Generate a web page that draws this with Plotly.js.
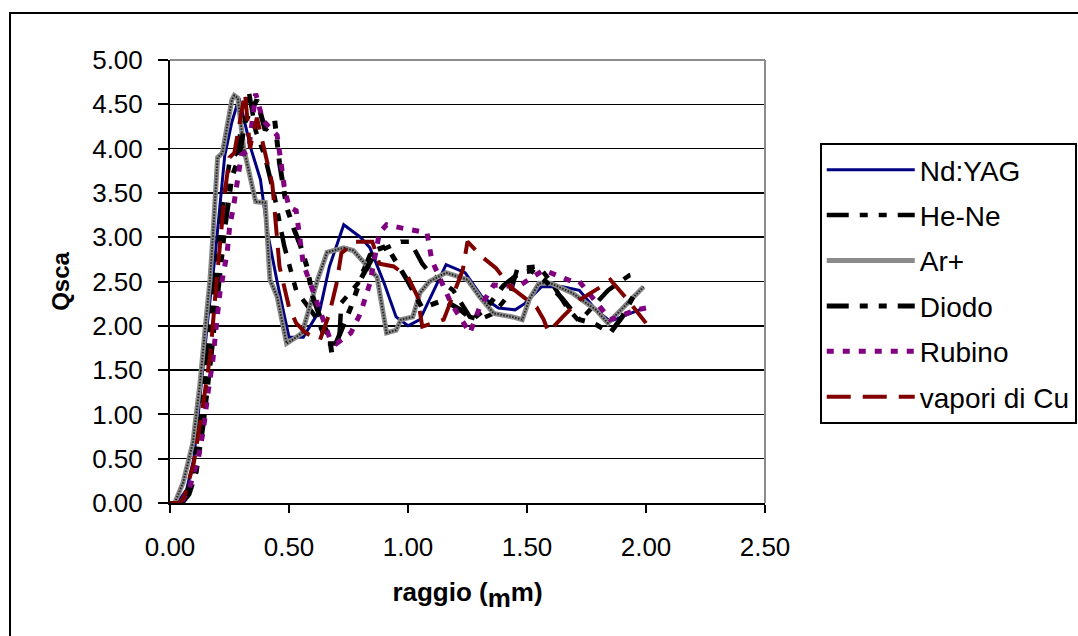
<!DOCTYPE html>
<html>
<head>
<meta charset="utf-8">
<script src="https://cdn.plot.ly/plotly-3.0.1.min.js"></script>
<style>html,body{margin:0;padding:0;background:#fff;}#chart{width:1078px;height:636px;}</style>
</head>
<body>
<div id="chart"></div>
<script>
// Raggio (x) and Qsca (y) for each laser
const ndyagX = [0.03,0.07,0.10,0.13,0.16,0.19,0.21,0.23,0.26,0.29,0.34,0.38,0.41,0.45,0.50,0.56,0.63,0.67,0.73,0.80,0.84,0.90,0.95,1.00,1.05,1.16,1.24,1.31,1.38,1.45,1.49,1.56,1.65,1.72,1.79,1.85,1.99];
const ndyagY = [0.00,0.15,0.50,1.30,2.10,2.80,3.40,3.92,4.30,4.57,4.00,3.65,3.05,2.50,1.87,1.87,2.18,2.67,3.14,3.00,2.88,2.48,2.10,2.00,2.07,2.69,2.60,2.33,2.20,2.18,2.25,2.44,2.44,2.40,2.18,2.05,2.20];

const heneX = [0.04,0.07,0.10,0.13,0.16,0.19,0.22,0.25,0.28,0.33,0.36,0.40,0.44,0.48,0.53,0.59,0.62,0.66,0.71,0.72,0.79,0.84,0.92,0.97,1.01,1.06,1.09,1.19,1.26,1.30,1.36,1.43,1.46,1.55,1.60,1.67,1.72,1.80,1.84,1.93,1.97];
const heneY = [0.00,0.10,0.40,1.00,1.80,2.60,3.30,3.85,3.95,4.66,4.20,3.90,3.45,2.90,2.40,2.18,2.07,1.80,1.80,2.26,2.48,2.80,2.89,2.95,2.95,2.70,2.60,2.40,2.10,2.07,2.14,2.37,2.65,2.67,2.50,2.20,2.05,2.29,2.40,2.57,2.60];

const arX = [0.02,0.055,0.096,0.126,0.147,0.168,0.18,0.20,0.22,0.26,0.27,0.285,0.31,0.36,0.40,0.42,0.45,0.49,0.53,0.555,0.62,0.66,0.73,0.77,0.83,0.87,0.91,0.95,0.97,1.02,1.05,1.09,1.16,1.25,1.30,1.36,1.44,1.48,1.51,1.55,1.60,1.69,1.79,1.84,1.99];
const arY = [0.00,0.23,0.68,1.35,1.95,2.52,3.00,3.90,3.95,4.55,4.60,4.57,4.00,3.40,3.39,2.52,2.33,1.80,1.87,1.92,2.52,2.83,2.88,2.85,2.67,2.55,1.92,1.95,2.07,2.10,2.37,2.50,2.60,2.52,2.33,2.14,2.10,2.07,2.30,2.48,2.48,2.37,2.18,2.03,2.44];

const diodoX = [0.05,0.08,0.11,0.14,0.17,0.20,0.23,0.26,0.29,0.315,0.365,0.40,0.44,0.46,0.49,0.52,0.55,0.575,0.60,0.63,0.67,0.68,0.76,0.80,0.83,0.87,0.91,1.00,1.06,1.15,1.22,1.27,1.33,1.40,1.47,1.52,1.58,1.65,1.72,1.78,1.85,1.90,1.95];
const diodoY = [0.00,0.10,0.35,0.90,1.60,2.40,3.10,3.68,3.90,4.30,4.55,4.21,4.32,3.84,3.34,3.10,2.89,2.67,2.33,2.10,1.87,1.69,2.21,2.52,2.67,2.86,2.90,2.50,2.20,2.29,2.18,2.07,2.20,2.45,2.60,2.62,2.50,2.30,2.07,2.03,1.92,2.10,2.35];

const rubinoX = [0.05,0.08,0.12,0.14,0.16,0.18,0.20,0.21,0.24,0.25,0.27,0.30,0.33,0.36,0.39,0.45,0.465,0.48,0.50,0.53,0.56,0.63,0.67,0.70,0.76,0.80,0.84,0.88,0.91,0.98,1.08,1.10,1.18,1.26,1.30,1.36,1.46,1.57,1.69,1.72,1.85,1.96,2.00];
const rubinoY = [0.02,0.15,0.52,0.82,1.25,1.61,2.14,2.38,2.82,3.10,3.40,3.93,3.98,4.62,4.32,4.15,3.87,3.57,3.34,3.30,2.70,2.18,1.87,1.80,1.92,2.14,2.48,3.05,3.14,3.10,3.05,2.74,2.26,1.92,2.20,2.46,2.44,2.63,2.50,2.50,2.07,2.18,2.20];

const cuX = [0.00,0.04,0.06,0.10,0.14,0.17,0.19,0.21,0.23,0.25,0.27,0.315,0.336,0.365,0.39,0.43,0.46,0.50,0.53,0.57,0.63,0.67,0.70,0.72,0.78,0.85,0.88,0.94,1.00,1.04,1.06,1.15,1.23,1.25,1.31,1.37,1.43,1.48,1.54,1.57,1.59,1.65,1.72,1.81,1.85,1.93,2.00];
const cuY = [0.00,0.00,0.07,0.45,1.13,1.69,2.33,2.89,3.50,3.90,3.95,4.63,4.00,4.35,4.06,3.60,2.67,2.21,2.03,1.92,1.84,2.14,2.48,2.82,2.95,2.95,2.70,2.67,2.55,2.33,1.99,2.07,2.63,2.95,2.78,2.65,2.44,2.33,2.21,2.07,1.93,2.10,2.29,2.44,2.52,2.27,2.03];

const seriesNames = ["Nd:YAG","He-Ne","Ar+","Diodo","Rubino","vapori di Cu"];
const yTicks = [0,0.5,1,1.5,2,2.5,3,3.5,4,4.5,5];
const xTicks = [0,0.5,1,1.5,2,2.5];

const FONT = "Liberation Sans, Arial, sans-serif";
const dashMix = "22px,11px,8px,11px,8px,11px";

const traces = [
  {x: ndyagX, y: ndyagY, name: seriesNames[0], legendgroup: "g0", line: {color: "#000080", width: 3}},
  {x: heneX, y: heneY, name: seriesNames[1], legendgroup: "g1", line: {color: "#000000", width: 4.5, dash: dashMix}},
  {x: arX, y: arY, name: seriesNames[2], legendgroup: "g2", line: {color: "#8a8a8a", width: 5}},
  {x: arX, y: arY, name: seriesNames[2], legendgroup: "g2", showlegend: false, line: {color: "#222222", width: 2, dash: "1.5px,1.5px"}},
  {x: diodoX, y: diodoY, name: seriesNames[3], legendgroup: "g3", line: {color: "#000000", width: 5, dash: dashMix}},
  {x: rubinoX, y: rubinoY, name: seriesNames[4], legendgroup: "g4", line: {color: "#800080", width: 5, dash: "7px,9px"}},
  {x: cuX, y: cuY, name: seriesNames[5], legendgroup: "g5", line: {color: "#800000", width: 4, dash: "24px,12px"}}
].map(t => Object.assign({type: "scatter", mode: "lines", hoverinfo: "skip"}, t));

const layout = {
  width: 1078, height: 636,
  margin: {l: 170, r: 313, t: 60, b: 133, autoexpand: false},
  paper_bgcolor: "#ffffff", plot_bgcolor: "#ffffff",
  font: {family: FONT, color: "#000", size: 26},
  showlegend: true,
  legend: {
    x: 1.092, xanchor: "left", y: 0.8126, yanchor: "top",
    bordercolor: "#000", borderwidth: 2, bgcolor: "#fff",
    font: {family: FONT, size: 28, color: "#000"},
    traceorder: "grouped", tracegroupgap: 6, itemwidth: 88,
    entrywidth: 280, entrywidthmode: "pixels"
  },
  xaxis: {
    range: [0, 2.5], tickvals: xTicks, ticktext: xTicks.map(v => v.toFixed(2)),
    showgrid: false, zeroline: false,
    showline: true, linecolor: "#000", linewidth: 2,
    ticks: "outside", ticklen: 8, tickwidth: 2, tickcolor: "#000",
    ticklabelstandoff: 12,
    tickfont: {family: FONT, size: 26, color: "#000"},
    title: {text: "<b>raggio (<sub><span style='font-size:26px'>m</span></sub>m)</b>", font: {family: FONT, size: 26, color: "#000"}, standoff: 22}
  },
  yaxis: {
    range: [0, 5], tickvals: yTicks, ticktext: yTicks.map(v => v.toFixed(2)),
    showgrid: true, gridcolor: "#000", gridwidth: 1.5,
    zeroline: false,
    showline: true, linecolor: "#000", linewidth: 2,
    ticks: "outside", ticklen: 10, tickwidth: 2, tickcolor: "#000",
    ticklabelstandoff: 10,
    tickfont: {family: FONT, size: 26, color: "#000"},
    title: {text: "<b>Qsca</b>", font: {family: FONT, size: 24, color: "#000"}, standoff: 16}
  },
  shapes: [
    {type: "rect", xref: "paper", yref: "paper", x0: -0.2689, x1: 1.9, y0: -0.4, y1: 1.1061, line: {color: "#000", width: 2}, layer: "below"},
    {type: "line", xref: "paper", yref: "paper", x0: 0, x1: 1, y0: 1, y1: 1, line: {color: "#8c8c8c", width: 2}, layer: "above"},
    {type: "line", xref: "paper", yref: "paper", x0: 1, x1: 1, y0: 0, y1: 1, line: {color: "#8c8c8c", width: 2}, layer: "above"}
  ]
};

Plotly.newPlot("chart", traces, layout, {staticPlot: true, displayModeBar: false});
</script>
</body>
</html>
